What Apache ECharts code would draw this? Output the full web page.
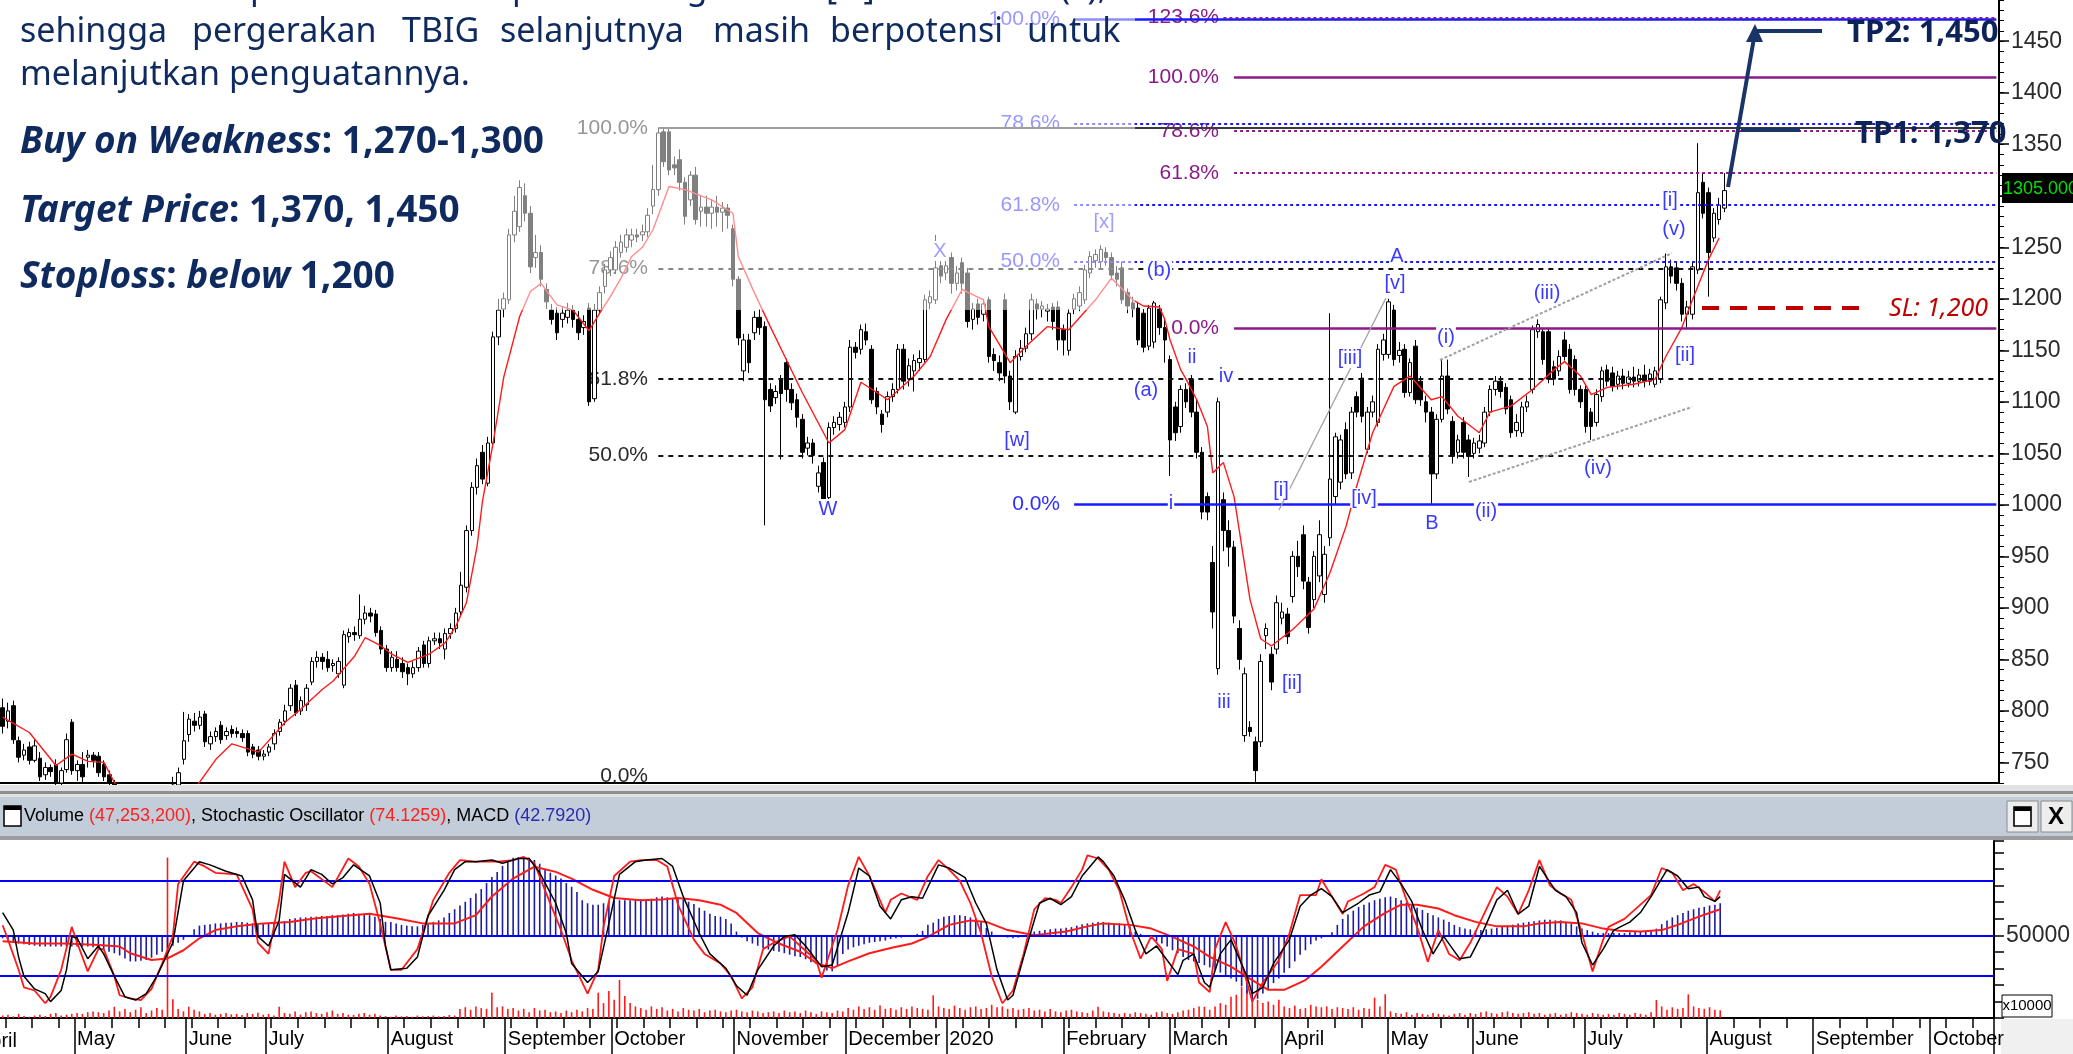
<!DOCTYPE html>
<html><head><meta charset="utf-8">
<script src="https://cdn.jsdelivr.net/npm/echarts@6/dist/echarts.min.js"></script>
<style>html,body{margin:0;padding:0;background:#fff;overflow:hidden}#c{width:2073px;height:1054px}</style>
</head><body><div id="c"></div><script>
// ---------------- DATA ----------------
const categories = Array.from({length:375}, (_, i) => String(i)); // trading-day slots (Apr 2019 .. Oct 2020)
const monthTicks = [[14,'May'],[35,'June'],[50,'July'],[73,'August'],[95,'September'],[115,'October'],[138,'November'],[159,'December'],[178,'2020'],[200,'February'],[220,'March'],[241,'April'],[261,'May'],[277,'June'],[298,'July'],[321,'August'],[341,'September'],[363,'October']];
const priceTicks = [750,800,850,900,950,1000,1050,1100,1150,1200,1250,1300,1350,1400,1450];
// candles: [open, close, low, high]
const candles = [
[803,785,778,812],[790,800,783,808],[805,772,768,810],[771,755,750,775],[757,762,752,768],[765,752,748,770],[752,766,750,772],[754,736,732,760],[738,745,733,750],[745,741,736,748],
[748,730,726,753],[730,742,728,745],[743,772,740,778],[789,742,738,792],[742,748,732,752],[748,736,730,760],[755,757,745,762],[757,752,745,760],[756,740,736,760],[748,736,732,752],
[738,730,726,742],[730,715,712,733],[715,705,700,718],[705,698,692,710],[698,702,690,706],[702,694,688,706],[694,700,690,705],[700,708,695,712],[708,704,698,714],[704,712,700,716],
[712,718,706,722],[718,722,712,728],[722,728,718,736],[728,740,724,745],[753,771,748,799],[777,792,770,797],[790,786,780,798],[786,794,782,800],[797,770,765,800],[768,775,762,780],
[775,780,770,784],[786,772,768,790],[776,780,772,784],[782,778,774,786],[780,778,774,784],[778,774,770,782],[778,760,756,781],[765,758,754,768],[762,756,752,766],[756,758,752,762],
[760,765,756,768],[768,778,762,782],[780,789,776,792],[790,800,786,806],[805,822,800,826],[825,798,795,830],[800,810,796,814],[806,822,800,826],[828,848,825,852],[848,852,842,858],
[852,848,840,856],[850,842,838,858],[844,846,838,850],[836,848,832,852],[825,874,822,878],[872,876,866,880],[876,874,868,882],[873,889,870,913],[889,895,884,902],[895,892,886,900],
[894,876,872,898],[878,860,855,882],[860,842,838,864],[842,852,838,858],[850,842,838,858],[846,838,832,852],[842,836,825,846],[836,842,832,848],[842,858,838,862],[864,846,842,868],
[846,868,842,872],[868,870,864,876],[870,866,860,876],[860,875,850,880],[875,880,870,885],[880,895,876,900],[896,922,892,935],[920,975,915,980],[975,1017,970,1022],[1017,1038,1010,1045],
[1051,1025,1020,1058],[1021,1060,1018,1066],[1060,1163,1055,1168],[1163,1189,1155,1200],[1190,1200,1182,1206],[1199,1262,1195,1268],[1262,1285,1255,1300],[1270,1308,1265,1315],[1300,1283,1275,1312],[1283,1231,1225,1290],
[1240,1245,1230,1262],[1245,1219,1212,1252],[1209,1197,1190,1215],[1189,1180,1175,1195],[1186,1167,1160,1192],[1180,1186,1172,1192],[1182,1189,1176,1196],[1189,1180,1172,1194],[1180,1167,1160,1188],[1172,1178,1165,1184],
[1191,1100,1096,1196],[1103,1189,1100,1195],[1189,1206,1185,1212],[1212,1228,1205,1234],[1228,1240,1222,1246],[1228,1250,1224,1256],[1245,1255,1240,1262],[1250,1262,1245,1268],[1257,1262,1250,1268],[1262,1260,1255,1268],
[1262,1265,1256,1272],[1265,1281,1260,1288],[1290,1306,1282,1330],[1306,1361,1300,1366],[1362,1333,1328,1366],[1362,1325,1320,1366],[1330,1327,1320,1338],[1335,1313,1305,1345],[1313,1280,1272,1318],[1296,1320,1290,1324],
[1320,1277,1272,1328],[1285,1289,1270,1300],[1289,1283,1270,1300],[1283,1289,1268,1296],[1289,1284,1270,1300],[1284,1288,1265,1294],[1288,1281,1268,1292],[1268,1219,1212,1272],[1219,1162,1155,1222],[1130,1160,1120,1166],
[1160,1138,1128,1166],[1167,1182,1160,1188],[1182,1172,1165,1190],[1173,1102,980,1178],[1112,1096,1090,1118],[1104,1110,1098,1116],[1122,1108,1044,1126],[1138,1112,1100,1142],[1112,1099,1092,1118],[1102,1085,1075,1108],
[1083,1051,1045,1088],[1055,1060,1048,1066],[1060,1048,1040,1064],[1018,1031,1012,1038],[1041,1005,990,1046],[1007,1075,1000,1080],[1075,1080,1068,1086],[1078,1085,1072,1090],[1080,1095,1075,1100],[1095,1153,1090,1160],
[1153,1148,1142,1158],[1151,1170,1146,1175],[1168,1160,1155,1176],[1151,1102,1098,1155],[1110,1095,1088,1114],[1088,1078,1070,1092],[1090,1105,1085,1110],[1105,1112,1100,1118],[1112,1151,1108,1156],[1151,1120,1112,1156],
[1122,1135,1115,1142],[1130,1140,1110,1146],[1138,1142,1130,1150],[1141,1199,1138,1204],[1196,1202,1190,1208],[1199,1230,1195,1262],[1232,1222,1215,1240],[1225,1232,1218,1238],[1240,1215,1205,1245],[1215,1225,1208,1232],
[1235,1215,1205,1240],[1225,1178,1172,1230],[1180,1190,1170,1196],[1195,1182,1175,1200],[1185,1195,1178,1200],[1199,1144,1138,1202],[1146,1140,1130,1152],[1138,1128,1120,1145],[1199,1125,1118,1205],[1125,1100,1092,1130],
[1090,1144,1088,1150],[1144,1152,1140,1160],[1152,1166,1148,1172],[1166,1199,1160,1205],[1195,1190,1180,1200],[1190,1193,1182,1198],[1188,1190,1178,1195],[1192,1178,1170,1196],[1192,1160,1150,1198],[1170,1160,1145,1175],
[1150,1186,1145,1190],[1190,1200,1185,1205],[1193,1206,1188,1212],[1199,1228,1195,1233],[1225,1241,1220,1246],[1237,1243,1230,1248],[1236,1248,1230,1252],[1245,1240,1232,1250],[1240,1223,1218,1245],[1225,1219,1212,1232],
[1230,1199,1195,1236],[1206,1193,1186,1210],[1196,1190,1182,1202],[1191,1160,1155,1196],[1186,1153,1148,1190],[1154,1191,1150,1194],[1158,1196,1152,1198],[1190,1172,1165,1194],[1172,1160,1138,1180],[1141,1063,1028,1145],
[1095,1070,1062,1100],[1076,1112,1070,1116],[1112,1100,1094,1118],[1122,1090,1085,1126],[1090,1051,1045,1102],[1051,993,986,1056],[1008,993,985,1012],[944,896,880,960],[841,1100,835,1104],[1005,975,955,1012],
[975,959,940,985],[959,892,885,965],[880,850,840,888],[776,836,770,842],[784,780,775,790],[770,742,731,775],[770,848,765,855],[873,880,860,885],[855,828,820,862],[860,905,855,912],
[890,896,884,905],[894,872,865,900],[911,950,905,955],[950,940,930,965],[971,926,918,980],[925,881,875,930],[908,950,900,955],[931,971,925,985],[913,952,905,960],[968,1025,960,1186],
[1008,1066,1000,1070],[1022,1063,1015,1068],[1073,1030,1025,1080],[1031,1090,1025,1095],[1105,1090,1085,1110],[1123,1086,1080,1128],[1054,1090,1050,1095],[1090,1100,1085,1106],[1080,1151,1076,1156],[1146,1160,1140,1166],
[1146,1197,1142,1200],[1189,1141,1135,1194],[1145,1150,1138,1158],[1151,1109,1104,1156],[1109,1138,1105,1142],[1154,1102,1098,1160],[1120,1102,1096,1125],[1100,1090,1080,1106],[1090,1030,1001,1095],[1030,1083,1025,1088],
[1083,1125,1080,1141],[1125,1093,1088,1141],[1081,1047,1040,1086],[1051,1063,1045,1068],[1080,1051,1045,1085],[1063,1047,1027,1068],[1050,1060,1045,1065],[1055,1062,1050,1068],[1060,1090,1056,1095],[1090,1112,1086,1116],
[1112,1120,1106,1125],[1120,1110,1104,1125],[1114,1093,1088,1118],[1102,1070,1065,1106],[1072,1080,1066,1088],[1070,1095,1066,1100],[1095,1100,1090,1106],[1112,1170,1108,1174],[1168,1175,1162,1180],[1168,1141,1136,1172],
[1168,1122,1118,1172],[1134,1122,1116,1140],[1130,1144,1125,1150],[1160,1144,1140,1168],[1151,1112,1108,1156],[1141,1112,1106,1145],[1112,1100,1094,1116],[1112,1076,1070,1116],[1090,1076,1063,1094],[1080,1107,1076,1112],
[1105,1130,1100,1134],[1131,1120,1115,1136],[1128,1115,1110,1134],[1117,1125,1112,1130],[1125,1118,1112,1132],[1118,1124,1114,1130],[1124,1120,1114,1134],[1120,1126,1115,1132],[1126,1120,1114,1136],[1120,1127,1116,1132],
[1117,1130,1114,1134],[1122,1199,1118,1202],[1196,1231,1190,1244],[1231,1222,1215,1238],[1230,1215,1208,1235],[1215,1185,1178,1220],[1185,1192,1172,1198],[1185,1231,1180,1236],[1228,1303,1224,1351],[1313,1283,1278,1322],
[1303,1245,1202,1308],[1259,1283,1255,1288],[1277,1291,1272,1298],[1288,1305,1284,1322]
];
// red moving average, [slot, value]
const maLine = [[0,794],[5,779],[10,747],[13,758],[16,751],[19,750],[21,730],[24,715],[28,706],[32,710],[36,724],[40,753],[43,768],[48,760],[53,789],[56,802],[60,821],[62,829],[66,853],[68,871],[71,863],[73,855],[76,847],[80,855],[83,866],[85,882],[87,905],[89,960],[90,1003],[92,1060],[94,1124],[97,1183],[99,1207],[101,1215],[104,1194],[107,1189],[110,1169],[112,1186],[114,1202],[116,1220],[118,1241],[120,1250],[122,1267],[125,1309],[128,1306],[133,1296],[137,1283],[138,1241],[141,1206],[144,1173],[147,1141],[150,1109],[155,1060],[158,1073],[161,1119],[164,1109],[166,1102],[171,1125],[174,1144],[177,1180],[180,1209],[184,1199],[185,1173],[189,1138],[192,1154],[196,1173],[200,1170],[205,1199],[208,1220],[212,1199],[214,1193],[217,1192],[218,1180],[219,1160],[221,1131],[222,1122],[224,1102],[226,1076],[227,1031],[229,1041],[231,1008],[234,908],[236,870],[238,863],[242,879],[246,899],[249,934],[252,979],[254,1018],[257,1070],[261,1115],[264,1125],[268,1102],[270,1105],[273,1086],[277,1070],[279,1090],[283,1096],[287,1112],[291,1131],[293,1139],[296,1125],[298,1107],[301,1114],[306,1117],[310,1122],[312,1144],[315,1172],[317,1199],[320,1238],[322,1259]];
// stochastic %K (red) and %D (black), [slot, value]
const stochK = [[0,52],[1,43],[3,24],[4,13],[6,11],[8,3],[9,7],[11,24],[13,51],[14,41],[16,23],[18,37],[19,37],[21,20],[22,8],[24,6],[26,5],[28,12],[30,28],[32,45],[33,78],[36,92],[38,89],[40,85],[44,84],[47,62],[48,41],[50,34],[52,68],[53,92],[55,76],[57,85],[58,86],[62,76],[63,82],[65,94],[67,89],[69,78],[71,53],[73,24],[75,24],[78,37],[81,68],[84,85],[86,93],[89,92],[93,92],[96,93],[98,95],[100,91],[102,74],[105,49],[107,30],[110,9],[112,24],[113,51],[115,83],[118,92],[120,93],[123,93],[125,89],[127,65],[130,43],[132,34],[135,28],[137,20],[139,6],[141,13],[143,37],[145,41],[148,45],[150,39],[153,30],[154,19],[157,49],[159,77],[161,95],[163,83],[166,60],[167,68],[169,72],[172,68],[174,83],[176,93],[178,87],[180,80],[182,66],[184,47],[186,20],[188,3],[190,11],[192,34],[194,62],[196,69],[198,68],[199,66],[201,76],[203,87],[204,96],[206,94],[208,87],[210,74],[212,49],[214,31],[216,45],[218,37],[219,17],[221,37],[224,34],[225,16],[227,10],[228,37],[230,54],[232,39],[234,16],[235,4],[237,16],[240,30],[242,47],[244,71],[247,71],[248,81],[250,70],[252,59],[253,67],[256,72],[258,76],[260,90],[262,87],[264,68],[266,51],[268,29],[270,49],[272,34],[274,30],[276,41],[279,62],[281,76],[283,70],[285,59],[287,74],[289,93],[291,77],[293,72],[295,68],[297,47],[299,23],[301,43],[302,51],[305,56],[307,62],[310,71],[312,88],[314,85],[316,74],[318,78],[320,73],[322,67],[323,74]];
const stochD = [[0,60],[2,49],[3,32],[4,20],[6,12],[8,9],[9,4],[11,11],[12,24],[13,45],[14,44],[16,31],[18,39],[19,34],[21,20],[23,7],[25,5],[27,9],[29,20],[32,41],[34,80],[37,92],[39,90],[42,86],[45,83],[47,68],[48,45],[50,39],[52,55],[53,84],[56,76],[58,87],[60,84],[62,78],[64,82],[66,90],[69,83],[71,66],[72,39],[73,24],[76,25],[78,32],[80,58],[83,74],[85,87],[87,92],[89,92],[92,93],[94,91],[97,94],[99,94],[101,85],[104,66],[106,47],[107,28],[110,16],[112,23],[114,53],[116,84],[119,92],[121,93],[124,94],[126,89],[128,70],[131,47],[133,34],[136,25],[138,14],[140,8],[142,24],[145,39],[147,45],[149,46],[151,39],[154,26],[156,27],[159,60],[161,88],[163,83],[165,64],[167,56],[169,68],[171,70],[173,69],[176,90],[178,88],[181,82],[183,66],[185,53],[187,24],[189,5],[190,8],[192,32],[194,55],[195,66],[197,69],[199,65],[201,70],[203,83],[206,95],[207,92],[209,83],[211,68],[213,49],[215,34],[217,39],[219,30],[221,21],[222,30],[224,34],[226,16],[227,13],[229,34],[231,43],[234,20],[235,9],[237,13],[239,28],[242,43],[244,64],[246,71],[248,75],[250,70],[252,60],[255,66],[257,71],[259,73],[261,87],[263,78],[265,67],[267,49],[269,34],[271,45],[274,31],[276,32],[278,45],[281,68],[283,74],[285,59],[287,64],[289,89],[292,74],[294,70],[296,60],[297,41],[299,27],[301,37],[303,49],[306,54],[308,60],[310,70],[313,87],[315,83],[317,75],[319,76],[320,70],[322,67],[323,70]];
// MACD histogram, one value per slot
const macdHist = [
-4,-7,-10,-11,-12,-13,
-14,-15,-15,-15,-15,-15,-15,
-15,-15,-15,-15,-16,-18,
-20,-22,-24,-27,-31,-35, -35,-34,-33,-30,-26,-22, -18,-14,-10,-6,-1,8, 13,14,15,16,16,17, 17,18,18,17,16,16,
16,16,16,17,19,22, 23,24,24,25,25,26, 26,27,27,28,29,30, 29,28,27,25,22,18, 18,16,14,13,12,12,
14,16,18,20,24,30, 35,40,45,50,56,62, 70,78,85,93,100,104, 105,105,104,101,96,88, 84,80,76,70,65,58,
47,43,41,41,43,46, 47,47,47,47,47,48, 48,49,51,52,51,50, 50,48,45,42,37,33, 29,26,25,22,16,5,
-3,-8,-11,-14,-17,-19, -21,-22,-24,-26,-28,-29, -32,-36,-38,-42,-47,-48, -40,-25,-19,-16,-14,-12, -10,-9,-8,-7,-5,-4,
-3,-2,-2,2,6,14, 17,22,25,26,27,27, 26,24,22,18,10,5, 0,-2,-3,-4,-3,-2, 3,5,6,7,8,9,
9,10,11,13,15,16, 17,18,18,17,16,16, 14,12,5,2,0,-3, -8,-11,-15,-20,-24,-29, -33,-35,-37,-40,-43,-46,
-50,-55,-58,-62,-68,-78, -89,-85,-78,-72,-64,-58, -50,-44,-35,-26,-20,-12, -7,-4,-2,4,14,22, 28,33,38,41,44,47,
49,51,52,50,47,44, 40,37,34,30,27,24, 21,18,14,11,9,8, 7,7,8,9,10,12, 13,14,16,17,18,19,
20,21,21,20,20,18, 16,12,9,7,5,3, 3,3,3,3,3,4, 5,5,6,7,9,15, 20,24,27,30,33,35,
37,38,40,41,43
];
// MACD signal, [slot, value]
const macdSignal = [[0,-8],[6,-11],[12,-11],[18,-13],[22,-15],[24,-24],[28,-33],[31,-31],[34,-20],[37,-4],[40,7],[44,12],[49,16],[54,18],[59,23],[64,26],[69,29],[74,23],[79,16],[85,16],[89,27],[92,52],[96,76],[100,92],[104,85],[107,76],[111,61],[115,50],[120,47],[124,48],[127,50],[131,47],[135,41],[138,30],[142,3],[146,-11],[150,-22],[153,-37],[156,-44],[159,-35],[163,-24],[167,-17],[171,-11],[174,-2],[178,14],[182,20],[185,18],[189,7],[194,0],[200,5],[204,12],[207,16],[212,14],[216,9],[220,-2],[224,-15],[227,-29],[231,-42],[235,-60],[238,-73],[241,-73],[245,-60],[248,-42],[252,-15],[256,12],[260,30],[263,41],[266,41],[270,36],[273,27],[277,18],[281,12],[286,12],[289,16],[293,18],[297,16],[301,9],[304,6],[308,5],[312,7],[315,14],[319,25],[323,35]];
// volume (x10000 shares), one per slot
const volume = [
1500,2000,1000,2500,1200,800,1500,2000,1200,2500,3000,1500,2000,2500,
3000,2500,3500,4000,3500,3000,4500,6800,4000,5500,3500,5000,6500,3000,4500,6000,5000,
97000,11300,5500,4000,6800,
5000,4000,2500,3000,2000,2500,3000,2200,2500,1800,3000,2500,3200,2000,2500,1500,6800,
3000,2500,4000,2000,3500,4000,3000,2500,3500,4500,2500,3000,2000,1800,2500,3000,2000,2500,1500,
1200,800,1500,1000,1200,800,1500,1000,1200,1500,1000,1200,1800,1500,
5500,6500,5000,7000,6000,5500,15300,6500,7000,5500,
6000,4500,5500,3500,6000,4500,5000,3500,4000,3000,4500,3500,5000,4000,6000,5500,
15300,9000,16300,11000,23000,13300,9000,7000,6000,5000,
7000,5500,6500,4500,5500,4000,6000,5000,4500,5500,3500,4500,5000,4000,3500,4500,
5000,4000,3500,4500,4000,3000,3500,4000,3000,4500,3500,4000,3000,4500,3500,2500,4000,3500,3000,4500,4000,
6000,5000,7000,5500,6500,5000,7500,5500,6000,5000,6500,5500,7000,6000,5500,5000,
13700,
7000,6000,5500,7500,6000,5000,6500,7000,5500,6000,8000,6500,7000,5500,6000,5000,5500,6000,
4500,5000,4000,5500,4000,3500,4500,5000,4000,3500,3000,4500,6800,4000,3500,3000,2500,3000,2500,3500,3000,2500,2000,3500,4000,3000,2500,3500,4500,5000,6000,7000,6800,5000,
7000,9000,8000,12900,14000,19000,17000,15000,11000,9000,10000,8000,11000,
7000,6000,7500,5500,6000,8000,7000,6500,7000,5500,6500,6000,5500,6500,5000,6000,5500,
12300,7000,14300,
4000,3000,2500,3500,2000,3000,2500,2000,3000,2500,2000,1500,2500,3000,2000,3000,2500,3500,4000,3000,
2500,3500,4000,3000,2500,3000,3500,2500,3000,2000,2500,3000,2000,2500,3500,3000,2500,2000,3000,2500,
2000,2500,2000,3000,2500,2000,3000,2500,2000,3500,
10900,7000,5000,6500,5500,6000,14300,7000,6000,5500,6500,5000,4725
];
// Fibonacci levels: [value, label]
const fibBlack = [[1366,'100.0%'],[1229.5,'78.6%'],[1122,'61.8%'],[1048,'50.0%'],[730,'0.0%']];
const fibBlue = [[1471,'100.0%'],[1370,'78.6%'],[1291,'61.8%'],[1236,'50.0%'],[1001,'0.0%']];
const fibPurple = [[1473,'123.6%'],[1415,'100.0%'],[1363,'78.6%'],[1322,'61.8%'],[1171,'0.0%']];
// Elliott wave labels: [text, x, y] (pixel placement of annotations)
const waveLabels = [['W',828,509],['X',940,251],['[w]',1017,440],['[x]',1104,222],['(b)',1159,270],['ii',1192,357],['iv',1226,376],['(a)',1146,390],['i',1171,503],['iii',1224,702],['[i]',1281,490],['[ii]',1292,683],['[iii]',1350,358],['[iv]',1364,498],['[v]',1395,283],['A',1397,256],['B',1432,523],['(i)',1446,337],['(ii)',1486,511],['(iii)',1547,293],['(iv)',1598,468],['(v)',1674,229],['[i]',1670,200],['[ii]',1685,355]];

// ---------------- LAYOUT ----------------
const GT = 0, GH = 783, GW = 1999, YMIN = 730, YMAX = 1490;
const toY = v => GT + (YMAX - v) * GH / (YMAX - YMIN);
const monthSet = new Set(monthTicks.map(m => m[0]));
const monthName = {}; monthTicks.forEach(m => monthName[String(m[0])] = m[1]);
const SANS = 'Liberation Sans, Arial, sans-serif';
const NOTO = 'Noto Sans, Open Sans, sans-serif';
const NAVY = '#0f2a5f';

function hLine(v, start, color, type, width) {
  return [{coord:[start, v], lineStyle:{color:color, type:type, width:width}}, {coord:[374, v]}];
}
const fibLines = [];
fibBlack.slice(0,4).forEach((f,i) => fibLines.push(hLine(f[0], 123, i===0?'#3a3a3a':'#111', i===0?'solid':[5,5], 2)));
fibBlue.forEach((f,i) => fibLines.push(hLine(f[0], 201, '#1a1aff', (i===0||i===4)?'solid':[3,3], (i===0||i===4)?2.5:2)));
fibPurple.forEach((f,i) => fibLines.push(hLine(f[0], i===0?229:231, '#8b1a8b', (i===1||i===4)?'solid':[3,3], (i===1||i===4)?2.5:2)));

const G = [];
// fib labels (under candles)
fibBlack.forEach(f => G.push({type:'text', z:1, x:648, y:Math.min(toY(f[0]), 776), style:{text:f[1], fontSize:21, fontFamily:SANS, fill:'#2a2a2a', align:'right', verticalAlign:'middle'}}));
fibBlue.forEach(f => G.push({type:'text', z:1, x:1060, y:toY(f[0]), style:{text:f[1], fontSize:21, fontFamily:SANS, fill:'#2e2eff', align:'right', verticalAlign:'middle'}}));
fibPurple.forEach(f => G.push({type:'text', z:1, x:1219, y:toY(f[0]), style:{text:f[1], fontSize:21, fontFamily:SANS, fill:'#8b1a8b', align:'right', verticalAlign:'middle'}}));
// channel / wave lines
G.push({type:'polyline', z:40, shape:{points:[[1279,510],[1386,298]]}, style:{stroke:'#a0a0a0', lineWidth:1.3}});
G.push({type:'polyline', z:40, shape:{points:[[1440,360],[1672,253]]}, style:{stroke:'#a0a0a0', lineWidth:2, lineDash:[3,2]}});
G.push({type:'polyline', z:40, shape:{points:[[1469,482],[1692,407]]}, style:{stroke:'#a0a0a0', lineWidth:2, lineDash:[3,2]}});
// wave labels
waveLabels.forEach(w => G.push({type:'text', z:50, x:w[1], y:w[2], style:{text:w[0], fontSize:20, fontFamily:SANS, fill:'#3a3aff', align:'center', verticalAlign:'middle', backgroundColor:'#fff', padding:[0,1]}}));
// target arrow + TP / SL
const ARW = '#1b3468';
G.push({type:'polyline', z:60, shape:{points:[[1728,187],[1754,38]]}, style:{stroke:ARW, lineWidth:4}});
G.push({type:'polygon', z:60, shape:{points:[[1755,24],[1746,42],[1763,42]]}, style:{fill:ARW}});
G.push({type:'polyline', z:60, shape:{points:[[1757,31],[1822,31]]}, style:{stroke:ARW, lineWidth:4}});
G.push({type:'polyline', z:60, shape:{points:[[1741,130],[1800,130]]}, style:{stroke:ARW, lineWidth:4}});
G.push({type:'text', z:60, x:1847, y:33, style:{text:'TP2: 1,450', fontSize:31, fontWeight:'bold', fontFamily:NOTO, fill:'#0d2257', verticalAlign:'middle'}});
G.push({type:'text', z:60, x:1855, y:134, style:{text:'TP1: 1,370', fontSize:31, fontWeight:'bold', fontFamily:NOTO, fill:'#0d2257', verticalAlign:'middle'}});
G.push({type:'polyline', z:60, shape:{points:[[1702,308],[1860,308]]}, style:{stroke:'#c00000', lineWidth:4, lineDash:[17,11]}});
G.push({type:'text', z:60, x:1889, y:309, style:{text:'SL: 1,200', fontSize:25, fontStyle:'italic', fontFamily:NOTO, fill:'#c00000', verticalAlign:'middle'}});
// last price box
G.push({type:'rect', z:60, shape:{x:2002,y:173,width:71,height:30}, style:{fill:'#000'}});
G.push({type:'text', z:61, x:2003, y:189, style:{text:'1305.000', fontSize:18, fontFamily:SANS, fill:'#00e000', verticalAlign:'middle'}});
// translucent white panel over upper-left
G.push({type:'rect', z:100, shape:{x:0,y:0,width:1135,height:310}, style:{fill:'rgba(255,255,255,0.5)'}});
// report text
const T = (txt, x, y, extra) => G.push({type:'text', z:110, x:x, y:y, style:Object.assign({text:txt, fontSize:34, fontFamily:NOTO, fill:NAVY, verticalAlign:'middle'}, extra||{})});
[['Saat',20],['ini',108],['posisi',250],['TBIG',380],['pada',512],['sedang',590],['wave',730],['[iii]',826],['dari',880],['wave',960],['(v),',1060]].forEach(w => T(w[0], w[1], -11));
[['sehingga',20],['pergerakan',192],['TBIG',402],['selanjutnya',500],['masih',713],['berpotensi',830],['untuk',1027]].forEach(w => T(w[0], w[1], 32));
T('melanjutkan penguatannya.', 20, 75);
const richB = {
  bi:{fontSize:37, fontFamily:NOTO, fontWeight:'bold', fontStyle:'italic', fill:NAVY},
  b:{fontSize:37, fontFamily:NOTO, fontWeight:'bold', fill:NAVY}
};
T('{bi|Buy on Weakness}{b|: 1,270-1,300}', 20, 142, {rich:richB});
T('{bi|Target Price}{b|: 1,370, 1,450}', 20, 211, {rich:richB});
T('{bi|Stoploss}{b|: }{bi|below}{b| 1,200}', 20, 277, {rich:richB});
// separator + indicator header
G.push({type:'rect', z:120, shape:{x:0,y:785,width:2073,height:12}, style:{fill:'#e2e2e2'}});
G.push({type:'rect', z:120, shape:{x:0,y:791,width:2073,height:3}, style:{fill:'#8e8e8e'}});
G.push({type:'rect', z:120, shape:{x:0,y:797,width:2073,height:39}, style:{fill:'#c3cdd9'}});
G.push({type:'rect', z:120, shape:{x:0,y:836,width:2073,height:4}, style:{fill:'#9c9c9c'}});
G.push({type:'rect', z:121, shape:{x:4,y:806,width:17,height:20}, style:{fill:'#fff', stroke:'#000', lineWidth:1.5}});
G.push({type:'rect', z:122, shape:{x:4,y:806,width:17,height:4}, style:{fill:'#000'}});
G.push({type:'text', z:121, x:24, y:816, style:{text:'{k|Volume }{r|(47,253,200)}{k|, Stochastic Oscillator }{r|(74.1259)}{k|, MACD }{u|(42.7920)}', verticalAlign:'middle',
  rich:{k:{fontSize:18, fontFamily:SANS, fill:'#000'}, r:{fontSize:18, fontFamily:SANS, fill:'#ff2020'}, u:{fontSize:18, fontFamily:SANS, fill:'#2a2ab0'}}}});
G.push({type:'rect', z:121, shape:{x:2007,y:801,width:31,height:31}, style:{fill:'#ededed', stroke:'#8a8a8a', lineWidth:1}});
G.push({type:'rect', z:122, shape:{x:2014,y:807,width:17,height:19}, style:{fill:'#fff', stroke:'#000', lineWidth:1.6}});
G.push({type:'rect', z:123, shape:{x:2014,y:807,width:17,height:4}, style:{fill:'#000'}});
G.push({type:'rect', z:121, shape:{x:2041,y:801,width:31,height:31}, style:{fill:'#ededed', stroke:'#8a8a8a', lineWidth:1}});
G.push({type:'text', z:122, x:2056, y:817, style:{text:'X', fontSize:24, fontWeight:'bold', fontFamily:SANS, fill:'#000', align:'center', verticalAlign:'middle'}});
// x10000 box + lower right filler
G.push({type:'rect', z:60, shape:{x:2002,y:995,width:50,height:22}, style:{fill:'#fff', stroke:'#000', lineWidth:1}});
G.push({type:'text', z:61, x:2027, y:1006, style:{text:'x10000', fontSize:15, fontFamily:SANS, fill:'#000', align:'center', verticalAlign:'middle'}});
G.push({type:'rect', z:0, shape:{x:2001,y:1019,width:72,height:35}, style:{fill:'#f0f0f0'}});
// clipped "April" label at far left
G.push({type:'text', z:5, x:-23, y:1041, style:{text:'April', fontSize:20, fontFamily:SANS, fill:'#000', verticalAlign:'middle'}});

const plain = v => String(v);
const option = {
  animation:false,
  backgroundColor:'#fff',
  textStyle:{fontFamily:SANS},
  grid:[{left:0, top:GT, width:GW, height:GH}, {left:0, top:841, width:GW, height:177}],
  xAxis:[
    {type:'category', gridIndex:0, position:'bottom', data:categories, boundaryGap:true, axisLine:{onZero:false, lineStyle:{color:'#000', width:2}}, axisTick:{show:false}, axisLabel:{show:false}, splitLine:{show:false}},
    {type:'category', gridIndex:1, position:'bottom', data:categories, boundaryGap:true, axisLine:{onZero:false, lineStyle:{color:'#000', width:2}}, axisTick:{show:true, interval:(i)=> i%5===1, length:10, lineStyle:{color:'#000', width:1.5}}, axisLabel:{show:false}, splitLine:{show:false}},
    {type:'category', gridIndex:1, position:'bottom', offset:0, data:categories, boundaryGap:true, axisLine:{show:false, onZero:false}, axisTick:{show:true, interval:(i)=> monthSet.has(i), length:38, lineStyle:{color:'#000', width:1.5}},
      axisLabel:{show:true, interval:(i)=> monthSet.has(i), formatter:(v)=> monthName[v] || '', align:'left', margin:11, fontSize:20, color:'#000', fontFamily:SANS}, splitLine:{show:false}}
  ],
  yAxis:[
    {type:'value', gridIndex:0, min:YMIN, max:YMAX, position:'right', axisLine:{show:true, lineStyle:{color:'#000', width:2}},
      axisTick:{show:true, customValues:priceTicks, length:10, lineStyle:{color:'#000', width:1.5}},
      axisLabel:{show:true, customValues:priceTicks, formatter:plain, margin:12, fontSize:23, color:'#2a2a2a', fontFamily:SANS}, splitLine:{show:false}},
    {type:'value', gridIndex:0, min:YMIN, max:YMAX, interval:10, position:'right', axisLine:{show:false}, axisTick:{show:true, length:5, lineStyle:{color:'#000', width:1}}, axisLabel:{show:false}, splitLine:{show:false}},
    {type:'value', gridIndex:1, min:-6.3, max:105, show:false, splitLine:{show:false}},
    {type:'value', gridIndex:1, min:-110.8, max:126.4, show:false, splitLine:{show:false}},
    {type:'value', gridIndex:1, min:0, max:107000, interval:10000, position:'right', axisLine:{show:true, lineStyle:{color:'#000', width:2}},
      axisTick:{show:true, length:10, lineStyle:{color:'#000', width:1.5}}, axisLabel:{show:true, customValues:[50000], formatter:plain, margin:12, fontSize:23, color:'#2a2a2a', fontFamily:SANS}, splitLine:{show:false}}
  ],
  graphic:{elements:G},
  series:[
    {type:'candlestick', xAxisIndex:0, yAxisIndex:0, data:candles, barWidth:4, z:3,
      itemStyle:{color:'#ffffff', color0:'#000000', borderColor:'#000', borderColor0:'#000', borderWidth:1},
      markLine:{symbol:'none', silent:true, animation:false, label:{show:false}, data:fibLines}},
    {type:'line', xAxisIndex:0, yAxisIndex:0, data:maLine, symbol:'none', lineStyle:{color:'#ff1a1a', width:1.4}, z:4},
    {type:'bar', xAxisIndex:1, yAxisIndex:4, data:volume, barWidth:1.6, itemStyle:{color:'#ff1a1a'}, z:2},
    {type:'bar', xAxisIndex:2, yAxisIndex:3, data:macdHist, barWidth:1.6, itemStyle:{color:'#1c1ca0'}, z:3,
      markLine:{symbol:'none', silent:true, label:{show:false}, lineStyle:{color:'#0000ff', width:2, type:'solid'}, data:[{yAxis:0}]}},
    {type:'line', xAxisIndex:1, yAxisIndex:3, data:macdSignal, symbol:'none', lineStyle:{color:'#ff1a1a', width:2}, z:4},
    {type:'line', xAxisIndex:1, yAxisIndex:2, data:stochK, symbol:'none', lineStyle:{color:'#ff1a1a', width:1.8}, z:5,
      markLine:{symbol:'none', silent:true, label:{show:false}, lineStyle:{color:'#0000ff', width:2, type:'solid'}, data:[{yAxis:80},{yAxis:20}]}},
    {type:'line', xAxisIndex:1, yAxisIndex:2, data:stochD, symbol:'none', lineStyle:{color:'#000', width:1.5}, z:6}
  ]
};
const chart = echarts.init(document.getElementById('c'), null, {renderer:'canvas'});
chart.setOption(option);
</script></body></html>
